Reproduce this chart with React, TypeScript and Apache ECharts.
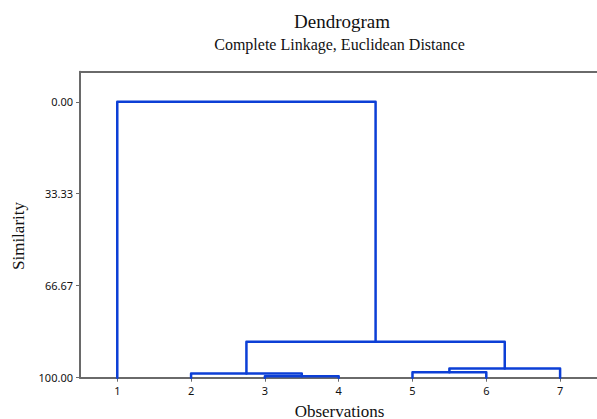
import React, { useEffect, useRef } from "react";
import * as echarts from "echarts";

// Leaves (observations) in display order
const observations = [1, 2, 3, 4, 5, 6, 7];
// Linkage: clusters numbered 1..7 for leaves, 8.. for merges (in order)
const mergeA = [3, 2, 5, 10, 9, 1];
const mergeB = [4, 8, 6, 7, 11, 12];
const mergeSimilarity = [99.5, 98.5, 98.0, 96.7, 87.0, 0.0];
// Axis ticks
const yTicks = [0, 33.33, 66.67, 100];

const titleText = "Dendrogram";
const subtitleText = "Complete Linkage, Euclidean Distance";
const xName = "Observations";
const yName = "Similarity";

const LINE_COLOR = "#0c3fd6";
const AXIS_COLOR = "#6a6a6a";

export default function App() {
  const ref = useRef<HTMLDivElement>(null);

  useEffect(() => {
    if (!ref.current) return;
    const chart = echarts.init(ref.current, null, { renderer: "svg" });

    const posX: Record<number, number> = {};
    const posY: Record<number, number> = {};
    observations.forEach((o, i) => {
      posX[o] = i + 1;
      posY[o] = 100;
    });
    const series: any[] = [];
    mergeA.forEach((a, i) => {
      const b = mergeB[i];
      const h = mergeSimilarity[i];
      const id = observations.length + 1 + i;
      const xa = posX[a];
      const xb = posX[b];
      series.push({
        type: "line",
        symbol: "none",
        silent: true,
        lineStyle: { color: LINE_COLOR, width: 2.5, join: "round", cap: "round" },
        data: [
          [xa, posY[a]],
          [xa, h],
          [xb, h],
          [xb, posY[b]],
        ],
        z: 3,
      });
      posX[id] = (xa + xb) / 2;
      posY[id] = h;
    });

    const serif = "'Liberation Serif', 'Times New Roman', serif";
    const sans = "'Noto Sans', 'Liberation Sans', Arial, sans-serif";

    chart.setOption({
      animation: false,
      backgroundColor: "#ffffff",
      grid: { left: 80, right: -1, top: 71.7, bottom: 41.3, containLabel: false },
      xAxis: [
        {
          type: "value",
          min: 0.495,
          max: 7.5,
          position: "bottom",
          axisLine: { show: true, onZero: false, lineStyle: { color: AXIS_COLOR, width: 2 } },
          axisTick: {
            show: true,
            length: 4,
            customValues: observations,
            lineStyle: { color: AXIS_COLOR, width: 1 },
          },
          axisLabel: {
            show: true,
            customValues: observations,
            margin: 7,
            fontFamily: sans,
            fontSize: 11,
            color: "#111",
            formatter: (v: number) => String(v),
          },
          splitLine: { show: false },
        },
        {
          type: "value",
          min: 0.495,
          max: 7.5,
          position: "top",
          axisLine: { show: true, onZero: false, lineStyle: { color: AXIS_COLOR, width: 2 } },
          axisTick: { show: false },
          axisLabel: { show: false },
          splitLine: { show: false },
        },
      ],
      yAxis: {
        type: "value",
        inverse: true,
        min: -10.9,
        max: 100,
        axisLine: { show: true, onZero: false, lineStyle: { color: AXIS_COLOR, width: 2 } },
        axisTick: {
          show: true,
          length: 4,
          customValues: yTicks,
          lineStyle: { color: AXIS_COLOR, width: 1 },
        },
        axisLabel: {
          show: true,
          customValues: yTicks,
          margin: 7,
          fontFamily: sans,
          fontSize: 11,
          color: "#111",
          formatter: (v: number) => v.toFixed(2),
        },
        splitLine: { show: false },
      },
      graphic: [
        {
          type: "text",
          x: 342,
          y: 21.5,
          style: {
            text: titleText,
            fontFamily: serif,
            fontSize: 19,
            fill: "#111",
            align: "center",
            verticalAlign: "middle",
          },
        },
        {
          type: "text",
          x: 339.5,
          y: 44.8,
          style: {
            text: subtitleText,
            fontFamily: serif,
            fontSize: 16,
            fill: "#111",
            align: "center",
            verticalAlign: "middle",
          },
        },
        {
          type: "text",
          x: 339.5,
          y: 411,
          style: {
            text: xName,
            fontFamily: serif,
            fontSize: 17,
            fill: "#111",
            align: "center",
            verticalAlign: "middle",
          },
        },
        {
          type: "text",
          x: 18,
          y: 236,
          rotation: Math.PI / 2,
          style: {
            text: yName,
            fontFamily: serif,
            fontSize: 17,
            fill: "#111",
            align: "center",
            verticalAlign: "middle",
          },
        },
      ],
      series,
    });

    return () => chart.dispose();
  }, []);

  return (
    <div
      ref={ref}
      style={{ position: "fixed", left: 0, top: 0, width: 597, height: 419 }}
    />
  );
}
